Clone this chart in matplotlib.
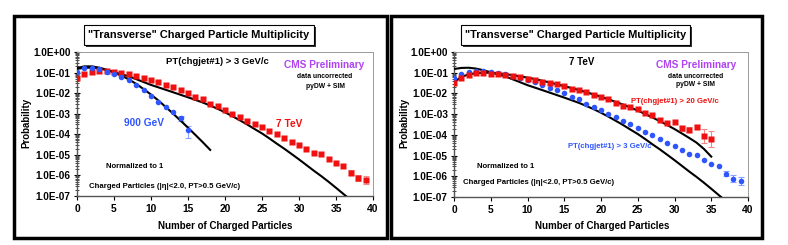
import numpy as np
import matplotlib.pyplot as plt
from matplotlib.patches import Rectangle
from matplotlib.ticker import FixedLocator, FuncFormatter, LogLocator, NullFormatter

plt.rcParams['font.family'] = ['Liberation Sans', 'DejaVu Sans']
plt.rcParams['font.weight'] = 'bold'

W, H = 788, 245

# --- data ---
n_7tev = np.arange(40)
p_7tev = [0.053, 0.088, 0.11, 0.12, 0.115, 0.105, 0.095, 0.083, 0.068, 0.055,
          0.044, 0.035, 0.025, 0.019, 0.014, 0.010, 0.0067, 0.0052, 0.0031, 0.0023,
          0.0015, 0.001, 6.9e-4, 4.6e-4, 3.2e-4, 2.2e-4, 1.45e-4, 1.0e-4, 6.3e-5, 4.2e-5,
          3.0e-5, 1.86e-5, 1.2e-5, 1.1e-5, 6.3e-6, 4.0e-6, 3.0e-6, 1.35e-6, 7.8e-7, 6.2e-7]
err_7tev_idx = [37, 38, 39]
err_7tev_lo = [1.0e-6, 5.5e-7, 4.0e-7]
err_7tev_hi = [1.85e-6, 1.1e-6, 9.5e-7]

n_900 = np.arange(16)
p_900 = [0.11, 0.17, 0.17, 0.15, 0.11, 0.082, 0.06, 0.042, 0.024, 0.014,
         0.0072, 0.0039, 0.0021, 0.0012, 6.0e-4, 1.55e-4]
err_900_idx = [14, 15]
err_900_lo = [4.5e-4, 6.5e-5]
err_900_hi = [7.5e-4, 2.6e-4]

n_20 = np.arange(36)
p_20 = [0.033, 0.057, 0.078, 0.093, 0.093, 0.087, 0.085, 0.074, 0.068, 0.062,
        0.051, 0.045, 0.037, 0.032, 0.0275, 0.023, 0.017, 0.014, 0.0112, 0.0083,
        0.0068, 0.0051, 0.0033, 0.00245, 0.0023, 0.0018, 0.0012, 9.1e-4, 5.5e-4, 3.6e-4,
        4.1e-4, 2.2e-4, 1.78e-4, 2.45e-4, 9.1e-5, 6.0e-5]
err_20_idx = [31, 32, 33, 34, 35]
err_20_lo = [1.5e-4, 1.3e-4, 1.9e-4, 4.0e-5, 2.5e-5]
err_20_hi = [2.8e-4, 2.4e-4, 3.1e-4, 2.0e-4, 1.5e-4]

# pyDW + SIM curves
n_mc7 = np.arange(38)
mc_7tev = [0.151, 0.17, 0.174, 0.158, 0.132, 0.105, 0.083, 0.066, 0.0479, 0.0347,
           0.0251, 0.0191, 0.0145, 0.011, 0.0083, 0.0063, 0.0047, 0.0035, 0.0025, 0.00174,
           0.00117, 7.6e-4, 4.8e-4, 3.0e-4, 1.8e-4, 1.1e-4, 6.3e-5, 3.5e-5, 2.0e-5, 1.1e-5,
           6.0e-6, 3.2e-6, 1.7e-6, 9.3e-7, 4.9e-7, 2.5e-7, 1.26e-7, 6.3e-8]
n_mc900 = np.arange(19)
mc_900 = [0.166, 0.2, 0.2, 0.174, 0.138, 0.102, 0.071, 0.047, 0.028, 0.0158,
          0.0085, 0.0044, 0.0021, 0.001, 4.6e-4, 2.1e-4, 9.3e-5, 4.1e-5, 1.74e-5]
n_mc20 = np.arange(36)
mc_20 = [0.035, 0.063, 0.083, 0.095, 0.1, 0.1, 0.093, 0.085, 0.076, 0.066,
         0.058, 0.049, 0.041, 0.034, 0.0275, 0.0224, 0.0182, 0.0145, 0.0115, 0.0089,
         0.0069, 0.0052, 0.0039, 0.0029, 0.0021, 0.00148, 0.00102, 6.9e-4, 4.6e-4, 3.0e-4,
         1.9e-4, 1.17e-4, 7.1e-5, 4.2e-5, 2.1e-5, 8.9e-6]

RED = '#f01010'
BLUE = '#2f55ff'
RED_ERR = '#f08888'
BLUE_ERR = '#88a4ff'
PURPLE = '#b044f0'


def fx(x):
    return x / W


def fy(y):
    return 1 - y / H


def err_bars(ax, n, p, idx, lo, hi, color):
    vals = np.array([p[i] for i in idx])
    yerr = [vals - np.array(lo), np.array(hi) - vals]
    ax.errorbar([n[i] for i in idx], vals, yerr=yerr, fmt='none', ecolor=color,
                elinewidth=0.8, capsize=2, capthick=0.8, zorder=2)


def style_axes(ax):
    ax.set_yscale('log')
    ax.set_xlim(0, 40)
    ax.set_ylim(1e-7, 1)
    ax.yaxis.set_major_locator(FixedLocator([10.0 ** k for k in range(-7, 1)]))
    ax.yaxis.set_major_formatter(FuncFormatter(lambda v, pos: f"{v:.1E}"))
    ax.yaxis.set_minor_locator(LogLocator(base=10, subs=np.arange(2, 10), numticks=20))
    ax.yaxis.set_minor_formatter(NullFormatter())
    ax.set_xticks(np.arange(0, 41, 5))
    ax.tick_params(axis='y', which='major', direction='inout', length=5, width=0.8,
                   labelsize=7.2, pad=2)
    ax.tick_params(axis='y', which='minor', direction='inout', length=3, width=0.5)
    ax.tick_params(axis='x', direction='out', length=3, width=0.8, labelsize=7.4, pad=3)
    for lab in ax.get_xticklabels() + ax.get_yticklabels():
        lab.set_fontweight('bold')
    for side in ['top', 'right']:
        ax.spines[side].set_color('#9a9a9a')
        ax.spines[side].set_linewidth(0.7)
    for side in ['left', 'bottom']:
        ax.spines[side].set_color('#555555')
        ax.spines[side].set_linewidth(1.0)


fig = plt.figure(figsize=(7.88, 2.45), dpi=100)

ax1 = fig.add_axes([fx(77), fy(196), fx(373 - 77), (196 - 52) / H])
ax2 = fig.add_axes([fx(454), fy(197), fx(748 - 454), (197 - 52) / H])

# left panel
ax1.plot(n_mc7, mc_7tev, color='black', lw=1.5, zorder=3)
ax1.plot(n_mc900, mc_900, color='black', lw=1.5, zorder=3)
err_bars(ax1, n_7tev, p_7tev, err_7tev_idx, err_7tev_lo, err_7tev_hi, RED_ERR)
err_bars(ax1, n_900, p_900, err_900_idx, err_900_lo, err_900_hi, BLUE_ERR)
ax1.plot(n_7tev, p_7tev, 's', color=RED, ms=4.0, mec='none', zorder=4)
ax1.plot(n_900, p_900, 'o', color=BLUE, ms=4.0, mec='none', zorder=5)
style_axes(ax1)

# right panel
ax2.plot(n_mc7, mc_7tev, color='black', lw=1.5, zorder=3)
ax2.plot(n_mc20, mc_20, color='black', lw=1.5, zorder=3)
err_bars(ax2, n_20, p_20, err_20_idx, err_20_lo, err_20_hi, RED_ERR)
err_bars(ax2, n_7tev, p_7tev, err_7tev_idx, err_7tev_lo, err_7tev_hi, BLUE_ERR)
ax2.plot(n_7tev, p_7tev, 'o', color=BLUE, ms=4.0, mec='none', zorder=4)
ax2.plot(n_20, p_20, 's', color=RED, ms=4.0, mec='none', zorder=5)
style_axes(ax2)

# outer frames
for x0, x1 in [(14, 387), (391, 762)]:
    fig.patches.append(Rectangle((fx(x0), fy(238)), fx(x1 - x0), (238 - 16) / H,
                                 transform=fig.transFigure, fill=False,
                                 ec='black', lw=2.5, zorder=0))

# title boxes with shadow
for x0, x1, xc in [(84, 314, 199), (461, 690, 576)]:
    fig.patches.append(Rectangle((fx(x0 + 2), fy(47)), fx(x1 - x0), 20 / H,
                                 transform=fig.transFigure, fc='#333333',
                                 ec='none', zorder=1))
    fig.patches.append(Rectangle((fx(x0), fy(45)), fx(x1 - x0), 20 / H,
                                 transform=fig.transFigure, fc='white',
                                 ec='black', lw=0.8, zorder=2))
    fig.text(fx(xc), fy(35.5), '"Transverse" Charged Particle Multiplicity',
             ha='center', va='center', fontsize=7.9, fontweight='bold', zorder=3)

# axis labels
for xl, xc in [(26, 225), (404, 602)]:
    fig.text(fx(xl), fy(123), 'Probability', rotation=90, ha='center', va='center',
             fontsize=7, fontweight='bold')
    fig.text(fx(xc), fy(226), 'Number of Charged Particles', ha='center',
             va='center', fontsize=7.0, fontweight='bold')

# annotations, left
fig.text(fx(217), fy(62), 'PT(chgjet#1) > 3 GeV/c', ha='center', va='center',
         fontsize=6.8, fontweight='bold')
fig.text(fx(324), fy(65), 'CMS Preliminary', ha='center', va='center',
         fontsize=7.3, fontweight='bold', color=PURPLE)
fig.text(fx(325), fy(76), 'data uncorrected', ha='center', va='center', fontsize=4.9)
fig.text(fx(325), fy(86), 'pyDW + SIM', ha='center', va='center', fontsize=4.9)
fig.text(fx(144), fy(123), '900 GeV', ha='center', va='center', fontsize=7.3,
         fontweight='bold', color=BLUE)
fig.text(fx(289), fy(124), '7 TeV', ha='center', va='center', fontsize=7.3,
         fontweight='bold', color=RED)
fig.text(fx(135), fy(167), 'Normalized to 1', ha='center', va='center', fontsize=5.6)
fig.text(fx(165), fy(186), 'Charged Particles (|η|<2.0, PT>0.5 GeV/c)', ha='center',
         va='center', fontsize=5.6)

# annotations, right
fig.text(fx(582), fy(62), '7 TeV', ha='center', va='center', fontsize=7,
         fontweight='bold')
fig.text(fx(696), fy(65), 'CMS Preliminary', ha='center', va='center',
         fontsize=7.3, fontweight='bold', color=PURPLE)
fig.text(fx(696), fy(76), 'data uncorrected', ha='center', va='center', fontsize=4.9)
fig.text(fx(696), fy(85), 'pyDW + SIM', ha='center', va='center', fontsize=4.9)
fig.text(fx(675), fy(101), 'PT(chgjet#1) > 20 GeV/c', ha='center', va='center',
         fontsize=5.6, fontweight='bold', color=RED)
fig.text(fx(610), fy(146), 'PT(chgjet#1) > 3 GeV/c', ha='center', va='center',
         fontsize=5.6, fontweight='bold', color=BLUE)
fig.text(fx(506), fy(167), 'Normalized to 1', ha='center', va='center', fontsize=5.6)
fig.text(fx(539), fy(183), 'Charged Particles (|η|<2.0, PT>0.5 GeV/c)', ha='center',
         va='center', fontsize=5.6)

fig.savefig('out.png', dpi=100, facecolor='white')
